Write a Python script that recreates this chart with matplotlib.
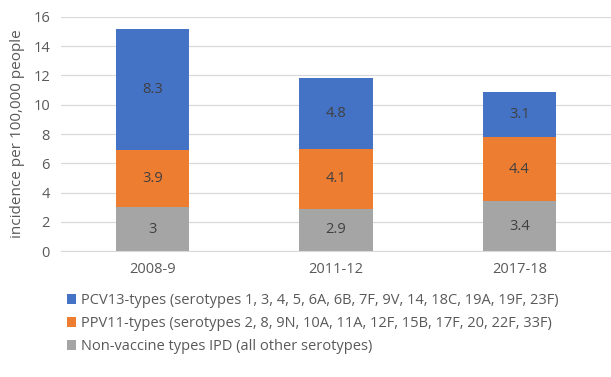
import matplotlib.pyplot as plt
import numpy as np

periods = ["2008-9", "2011-12", "2017-18"]
non_vaccine = [3, 2.9, 3.4]
ppv11 = [3.9, 4.1, 4.4]
pcv13 = [8.3, 4.8, 3.1]

labels = [
    "PCV13-types (serotypes 1, 3, 4, 5, 6A, 6B, 7F, 9V, 14, 18C, 19A, 19F, 23F)",
    "PPV11-types (serotypes 2, 8, 9N, 10A, 11A, 12F, 15B, 17F, 20, 22F, 33F)",
    "Non-vaccine types IPD (all other serotypes)",
]
colors = ["#4472C4", "#ED7D31", "#A5A5A5"]
text_col = "#595959"

plt.rcParams['font.family'] = ['Open Sans', 'DejaVu Sans']

fig = plt.figure(figsize=(6.11, 3.77), dpi=100)
ax = fig.add_axes([0.1, 0.334, 0.9, 0.621])

x = np.arange(len(periods))
w = 0.4
b1 = ax.bar(x, non_vaccine, w, color=colors[2], zorder=2)
b2 = ax.bar(x, ppv11, w, bottom=non_vaccine, color=colors[1], zorder=2)
bottom3 = np.array(non_vaccine) + np.array(ppv11)
b3 = ax.bar(x, pcv13, w, bottom=bottom3, color=colors[0], zorder=2)

for bars in (b1, b2, b3):
    ax.bar_label(bars, labels=[f"{v:g}" for v in bars.datavalues],
                 label_type='center', fontsize=10.5, color="#404040")

ax.set_xlim(-0.5, 2.5)
ax.set_ylim(0, 16)
ax.set_yticks(range(0, 17, 2))
ax.set_xticks(x)
ax.set_xticklabels(periods)
ax.yaxis.grid(True, color="#D9D9D9", lw=0.9, zorder=0)
for s in ("top", "right", "left"):
    ax.spines[s].set_visible(False)
ax.spines["bottom"].set_color("#D9D9D9")
ax.tick_params(length=0, labelsize=10.5, colors=text_col)
ax.tick_params(axis='y', pad=8)
ax.tick_params(axis='x', pad=8)
ax.set_ylabel("incidence per 100,000 people", fontsize=11, color=text_col, labelpad=6)

handles = [b3, b2, b1]
fig.legend(handles, labels, loc='upper left', bbox_to_anchor=(0.1, 0.238),
           frameon=False, fontsize=10.5, labelcolor=text_col,
           handlelength=0.6, handleheight=0.6, handletextpad=0.35,
           labelspacing=0.55, borderaxespad=0)

fig.savefig("out.png", dpi=100)
